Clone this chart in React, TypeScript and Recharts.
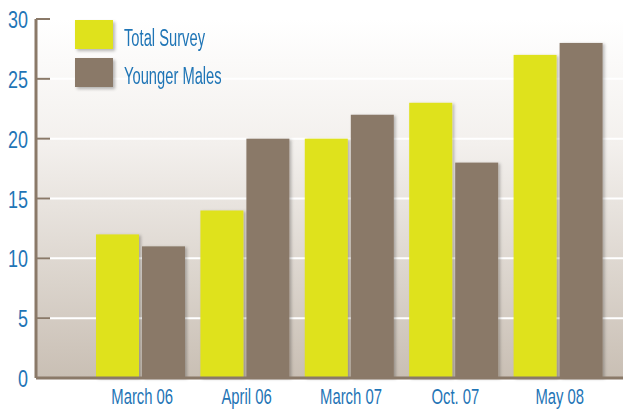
import React from 'react';
import { BarChart, Bar, XAxis, YAxis, CartesianGrid } from 'recharts';

const categories = ['March 06', 'April 06', 'March 07', 'Oct. 07', 'May 08'];
const totalSurvey = [12, 14, 20, 23, 27];
const youngerMales = [11, 20, 22, 18, 28];
const yTicks = [0, 5, 10, 15, 20, 25, 30];
const seriesNames = ['Total Survey', 'Younger Males'];

const data = categories.map((c, i) => ({ name: c, total: totalSurvey[i], younger: youngerMales[i] }));

const YELLOW = '#dfe21c';
const BROWN = '#8a7968';
const BLUE = '#1f75b6';
const AXIS = '#8a7968';
const FONT = "'Liberation Sans', Arial, sans-serif";
const colors = [YELLOW, BROWN];

const ShadowRect = (props: any) => {
  const { x, y, width, height, fill } = props;
  if (!height || height <= 0) return null;
  return <rect x={x} y={y} width={width} height={height} fill={fill} filter="url(#barShadow)" />;
};

const XTick = (props: any) => {
  const { x, y, payload } = props;
  return (
    <g transform={`translate(${x + 2},${y})`}>
      <text transform="scale(0.66,1)" x={0} y={26.5} textAnchor="middle" fill={BLUE} fontSize={22.5} fontFamily={FONT}>
        {payload.value}
      </text>
    </g>
  );
};

const YTick = (props: any) => {
  const { x, y, payload } = props;
  return (
    <g>
      <line x1={x} x2={x + 14} y1={y} y2={y} stroke={AXIS} strokeWidth={2} />
      <g transform={`translate(${x - 8},${y})`}>
        <text transform="scale(0.78,1)" x={0} y={9} textAnchor="end" fill={BLUE} fontSize={23} fontFamily={FONT}>
          {payload.value}
        </text>
      </g>
    </g>
  );
};

const LegendBox = () => (
  <div style={{ position: 'absolute', left: 75, top: 20, width: 200, height: 70, fontFamily: FONT }}>
    {seriesNames.map((n, i) => (
      <div key={n} style={{ position: 'absolute', left: 0, top: i * 38, width: 200, height: 29 }}>
        <div
          style={{
            position: 'absolute',
            left: 0,
            top: 0,
            width: 38,
            height: 29,
            background: colors[i],
            boxShadow: '2px 2px 3px rgba(0,0,0,0.28)',
          }}
        />
        <span
          style={{
            position: 'absolute',
            left: 49,
            top: 4,
            fontSize: 23,
            lineHeight: '29px',
            color: BLUE,
            whiteSpace: 'nowrap',
            transform: 'scaleX(0.64)',
            transformOrigin: 'left center',
          }}
        >
          {n}
        </span>
      </div>
    ))}
  </div>
);

export default function App() {
  return (
    <div style={{ position: 'absolute', left: 0, top: 0, width: 623, height: 410, background: '#fff' }}>
      <BarChart
        width={623}
        height={410}
        data={data}
        margin={{ top: 19, right: 0, bottom: 0, left: 0 }}
        barGap={3}
        barCategoryGap={7}
      >
        <defs>
          <linearGradient id="bgGrad" x1="0" y1="0" x2="0" y2="1">
            <stop offset="0%" stopColor="#ffffff" />
            <stop offset="35%" stopColor="#f3f0ed" />
            <stop offset="100%" stopColor="#c9bfb4" />
          </linearGradient>
          <filter id="barShadow" x="-20%" y="-5%" width="140%" height="110%">
            <feDropShadow dx="2" dy="1" stdDeviation="1.5" floodColor="#000" floodOpacity="0.25" />
          </filter>
        </defs>
        <CartesianGrid
          vertical={false}
          stroke="#ffffff"
          strokeWidth={2}
          fill="url(#bgGrad)"
          fillOpacity={1}
        />
        <XAxis
          dataKey="name"
          padding={{ left: 52, right: 13 }}
          axisLine={{ stroke: AXIS, strokeWidth: 3 }}
          tickLine={false}
          tickSize={0}
          tickMargin={0}
          height={32}
          tick={<XTick />}
          interval={0}
        />
        <YAxis
          domain={[0, 30]}
          ticks={yTicks}
          width={36}
          axisLine={{ stroke: AXIS, strokeWidth: 3 }}
          tickLine={false}
          tickSize={0}
          tickMargin={0}
          tick={<YTick />}
          interval={0}
        />
        <Bar dataKey="total" name={seriesNames[0]} fill={YELLOW} barSize={43} shape={<ShadowRect />} isAnimationActive={false} />
        <Bar dataKey="younger" name={seriesNames[1]} fill={BROWN} barSize={43} shape={<ShadowRect />} isAnimationActive={false} />
      </BarChart>
      <LegendBox />
    </div>
  );
}
